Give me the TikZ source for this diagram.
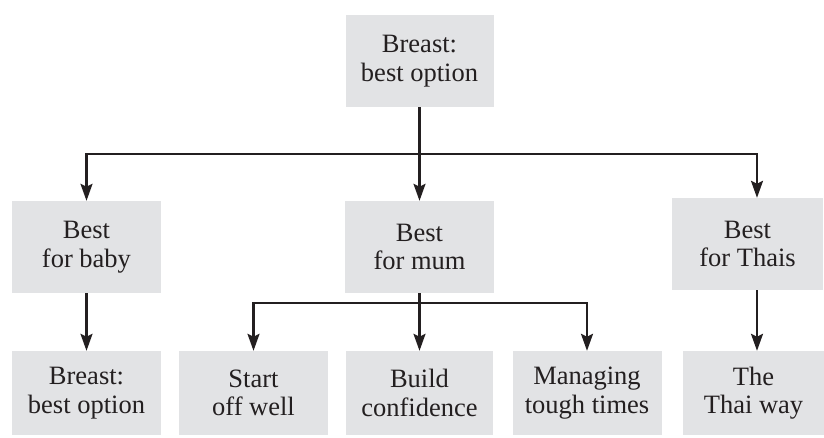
\documentclass[tikz,border=0pt]{standalone}
\usepackage{fontspec}
\setmainfont{Liberation Serif}
\usepackage{tikz}
\usetikzlibrary{arrows.meta,positioning}
\definecolor{boxCol}{HTML}{E2E3E5}
\definecolor{inkCol}{HTML}{231F20}
\tikzset{
  box/.style={fill=boxCol, minimum width=#1, minimum height=92pt, inner sep=0pt,
              align=center, text=inkCol, font=\fontsize{26.5}{28.5}\selectfont},
  leaf/.style={box=#1, minimum height=84pt},
  link/.style={draw=inkCol, line width=2.3pt},
  arr/.style={link, -{Stealth[length=17pt,width=12pt,inset=3pt]}},
}

\begin{document}
\begin{tikzpicture}[x=1pt,y=-1pt]
  \useasboundingbox (0,0) rectangle (824,437);
  % top level
  \node[box=148pt] (top) at (419.5,61) {Breast:\\best option};
  % second level
  \node[box=149pt] (baby)  at (86.5,247)  {Best\\for baby};
  \node[box=149pt] (mum)   at (419.5,247) {Best\\for mum};
  \node[box=151pt] (thais) at (747.5,244) {Best\\for Thais};
  % third level
  \node[leaf=149pt] (bbo)     at (86.5,393)  {Breast:\\best option};
  \node[leaf=149pt] (start)   at (253.5,393) {Start\\off well};
  \node[leaf=147pt] (build)   at (419.5,393) {Build\\confidence};
  \node[leaf=149pt] (manage)  at (587,393)   {Managing\\tough times};
  \node[leaf=141pt] (thaiway) at (753.5,393) {The\\Thai way};

  \coordinate (hub)  at (419.5,154);
  \coordinate (hub2) at (419.5,303);

  \draw[arr] (top.south) -- (mum.north);
  \draw[arr] (hub) -| (baby.north);
  \draw[arr] (hub) -| ([xshift=9.5pt]thais.north);

  \draw[arr] (mum.south) -- (build.north);
  \draw[arr] (hub2) -| (start.north);
  \draw[arr] (hub2) -| (manage.north);

  \draw[arr] (baby.south) -- (bbo.north);
  \draw[arr] ([xshift=9.5pt]thais.south) -- ([xshift=3.5pt]thaiway.north);
\end{tikzpicture}
\end{document}
